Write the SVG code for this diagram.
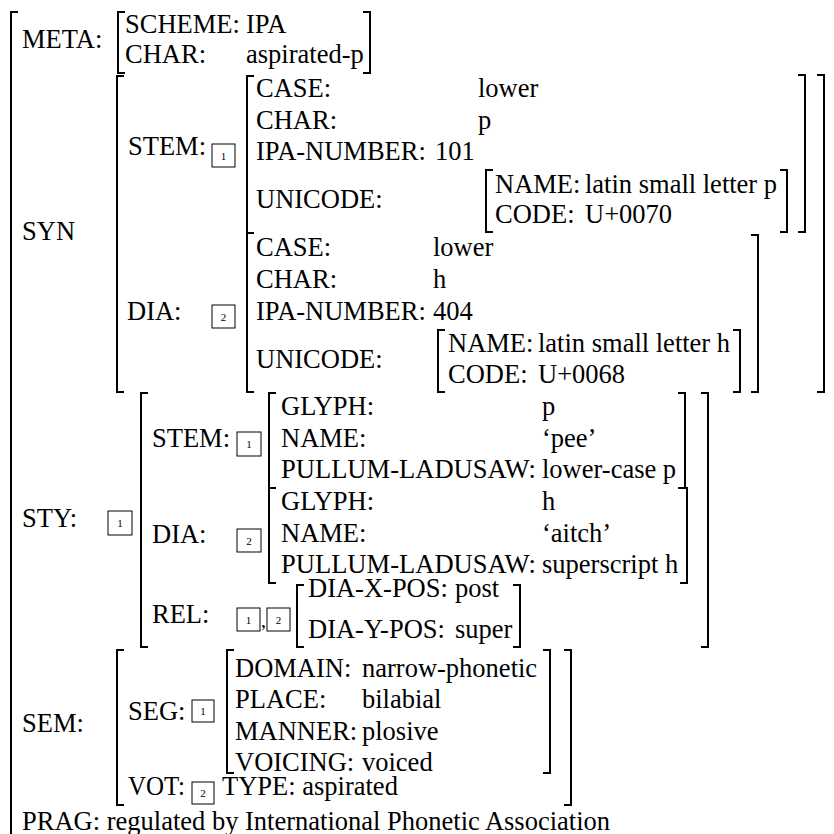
<svg xmlns="http://www.w3.org/2000/svg" width="834" height="834" viewBox="0 0 834 834">
<style>
.n{font-size:11px;text-anchor:middle}
.b{fill:none;stroke:#000;stroke-width:2}
.box{fill:none;stroke:#000;stroke-width:1}
</style>
<rect width="834" height="834" fill="#fff"/>
<g font-family="Liberation Serif, Tinos, Times New Roman, DejaVu Serif, serif" font-size="26.5" fill="#000">
<g id="outer"><path class="b" d="M18 12H11V840"/></g>
<g id="meta">
<text x="22" y="48">META:</text>
<path class="b" d="M125 12H118V73H125M363 12H370V73H363"/>
<text x="125" y="33">SCHEME:</text><text x="246" y="33">IPA</text>
<text x="125" y="63">CHAR:</text><text x="246" y="63">aspirated-p</text>
</g>
<g id="syn">
<text x="22" y="240">SYN</text>
<path class="b" d="M124 76H117V392H124M817 75H824V392H817"/>
<g id="syn-stem">
<text x="128" y="155">STEM:</text>
<rect class="box" x="212" y="144" width="23" height="23"/><text class="n" x="223.5" y="159.5">1</text>
<path class="b" d="M254 76H247V233H254M798 75H805V232H798"/>
<text x="256" y="97">CASE:</text><text x="478" y="97">lower</text>
<text x="256" y="129">CHAR:</text><text x="478" y="129">p</text>
<text x="256" y="160">IPA-NUMBER:</text><text x="435" y="160">101</text>
<text x="256" y="208">UNICODE:</text>
<path class="b" d="M493 170H486V232H493M780 170H787V232H780"/>
<text x="495" y="193">NAME:</text><text x="585" y="193">latin small letter p</text>
<text x="495" y="223">CODE:</text><text x="585" y="223">U+0070</text>
</g>
<g id="syn-dia">
<text x="127" y="320">DIA:</text>
<rect class="box" x="212" y="305" width="23" height="23"/><text class="n" x="223.5" y="320.5">2</text>
<path class="b" d="M254 233H247V392H254M751 235H758V392H751"/>
<text x="256" y="256">CASE:</text><text x="433" y="256">lower</text>
<text x="256" y="288">CHAR:</text><text x="433" y="288">h</text>
<text x="256" y="320">IPA-NUMBER:</text><text x="433" y="320">404</text>
<text x="256" y="368">UNICODE:</text>
<path class="b" d="M445 330H438V392H445M733 330H740V392H733"/>
<text x="448" y="352">NAME:</text><text x="538" y="352">latin small letter h</text>
<text x="448" y="383">CODE:</text><text x="538" y="383">U+0068</text>
</g>
</g>
<g id="sty">
<text x="22" y="527">STY:</text>
<rect class="box" x="108" y="511" width="24" height="24"/><text class="n" x="120" y="527">1</text>
<path class="b" d="M148 393H141V647H148M701 393H708V647H701"/>
<g id="sty-stem">
<text x="152" y="447">STEM:</text>
<rect class="box" x="237" y="432" width="24" height="24"/><text class="n" x="249" y="448">1</text>
<path class="b" d="M276 393H269V488H276M678 393H685V488H678"/>
<text x="281" y="415">GLYPH:</text><text x="542" y="415">p</text>
<text x="281" y="447">NAME:</text><text x="542" y="447">‘pee’</text>
<text x="281" y="478" textLength="255" lengthAdjust="spacingAndGlyphs">PULLUM-LADUSAW:</text><text x="542" y="478">lower-case p</text>
</g>
<g id="sty-dia">
<text x="152" y="543">DIA:</text>
<rect class="box" x="237" y="529" width="24" height="23"/><text class="n" x="249" y="544.5">2</text>
<path class="b" d="M276 488H269V583H276M680 488H687V583H680"/>
<text x="281" y="510">GLYPH:</text><text x="542" y="510">h</text>
<text x="281" y="542">NAME:</text><text x="542" y="542">‘aitch’</text>
<text x="281" y="573" textLength="255" lengthAdjust="spacingAndGlyphs">PULLUM-LADUSAW:</text><text x="542" y="573">superscript h</text>
</g>
<g id="sty-rel">
<text x="152" y="623">REL:</text>
<rect class="box" x="237" y="608" width="23" height="23"/><text class="n" x="248.5" y="623.5">1</text>
<text x="261" y="627" font-size="20">,</text>
<rect class="box" x="267" y="608" width="23" height="23"/><text class="n" x="278.5" y="623.5">2</text>
<path class="b" d="M304 585H297V647H304M513 585H520V647H513"/>
<text x="308" y="597">DIA-X-POS:</text><text x="455" y="597">post</text>
<text x="308" y="638">DIA-Y-POS:</text><text x="455" y="638">super</text>
</g>
</g>
<g id="sem">
<text x="22" y="732">SEM:</text>
<path class="b" d="M124 650H117V805H124M564 650H571V805H564"/>
<g id="sem-seg">
<text x="128" y="720">SEG:</text>
<rect class="box" x="192" y="700" width="22" height="22"/><text class="n" x="203" y="715">1</text>
<path class="b" d="M234 650H227V773H234M543 650H550V773H543"/>
<text x="235" y="677">DOMAIN:</text><text x="362" y="677">narrow-phonetic</text>
<text x="235" y="708">PLACE:</text><text x="362" y="708">bilabial</text>
<text x="235" y="740">MANNER:</text><text x="362" y="740">plosive</text>
<text x="235" y="771">VOICING:</text><text x="362" y="771">voiced</text>
</g>
<g id="sem-vot">
<text x="128" y="795" textLength="57" lengthAdjust="spacingAndGlyphs">VOT:</text>
<rect class="box" x="192" y="782" width="22" height="22"/><text class="n" x="203" y="797">2</text>
<text x="222" y="795">TYPE: aspirated</text>
</g>
</g>
<g id="prag"><text x="22" y="830">PRAG: regulated by International Phonetic Association</text></g>
</g>
</svg>
